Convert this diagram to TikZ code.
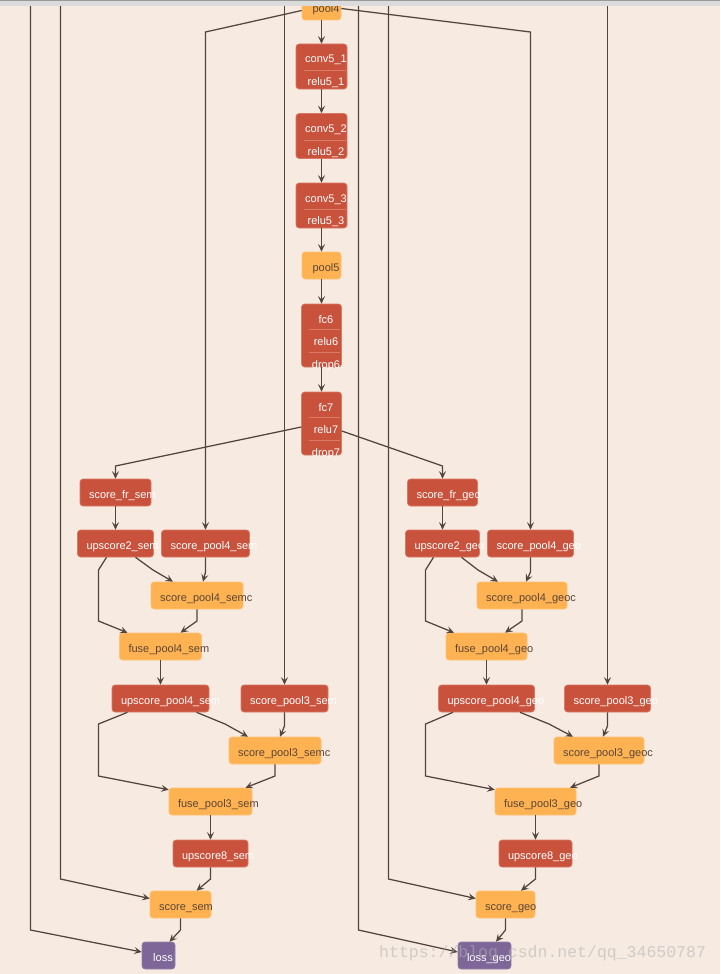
\documentclass[tikz,border=0pt]{standalone}
\usepackage{fontspec}
\setmainfont{Liberation Sans}
\newfontfamily\markfont{Liberation Mono}
\usetikzlibrary{arrows.meta}
\definecolor{bg}{HTML}{F6EAE1}
\definecolor{nred}{HTML}{C8523C}
\definecolor{nredl}{HTML}{DA7A66}
\definecolor{norange}{HTML}{FFB252}
\definecolor{norangel}{HTML}{FFC274}
\definecolor{npurple}{HTML}{7E6798}
\definecolor{npurplel}{HTML}{9583AA}
\definecolor{wire}{HTML}{54443E}
\definecolor{ntext}{HTML}{5A4636}
\hfuzz=300pt \hbadness=10000 \hyphenpenalty=10000
\begin{document}
\begin{tikzpicture}[x=1pt,y=-1pt,font=\fontsize{11}{22.5}\selectfont,
  box/.style={rounded corners=3pt,inner xsep=0pt,inner ysep=0pt,align=center,text height=19.5pt,text depth=7.5pt,
    line width=.6pt,execute at begin node={\leftskip=9pt plus 1fil\rightskip=0pt plus 1fil\parfillskip=0pt}},
  rnode/.style={box,fill=nred,draw=nredl,text=white,text width=#1},
  onode/.style={box,fill=norange,draw=norangel,text=ntext,text width=#1},
  pnode/.style={box,fill=npurple,draw=npurplel,text=white,text width=#1},
  tall/.style={text height=19pt,text depth=#1},
  edge/.style={draw=wire,line width=1.25pt,-{Stealth[length=7.5pt,width=7pt,inset=3pt]}},
  sep/.style={draw=nredl,line width=.7pt}]
\useasboundingbox(0,0)rectangle(720,974);
\fill[bg](0,0)rectangle(720,974);
\coordinate(lblsem)at(30.5,0);\coordinate(datasem)at(60.5,0);\coordinate(pool3s)at(284.5,0);
\coordinate(lblgeo)at(358.5,0);\coordinate(datageo)at(388.5,0);\coordinate(pool3g)at(607.5,0);
\node[onode=39pt](pool4)at(321.5,6.5){pool4};
\node[rnode=51pt,tall=26pt](c51)at(321.5,66.5){conv5\_1\\relu5\_1};
\node[rnode=51pt,tall=26pt](c52)at(321.5,136){conv5\_2\\relu5\_2};
\node[rnode=51pt,tall=26pt](c53)at(321.5,205.5){conv5\_3\\relu5\_3};
\node[onode=39pt](pool5)at(321.5,265.5){pool5};
\node[rnode=40pt,tall=44pt](fc6)at(321.5,335.5){fc6\\relu6\\drop6};
\node[rnode=40pt,tall=44pt](fc7)at(321.5,423.5){fc7\\relu7\\drop7};
\foreach \n in {c51,c52,c53}
  \draw[sep]([xshift=8pt,yshift=-27pt]\n.north west)--([xshift=-1pt,yshift=-27pt]\n.north east);
\foreach \n in {fc6,fc7}{
  \draw[sep]([xshift=8pt,yshift=-26pt]\n.north west)--([xshift=-2pt,yshift=-26pt]\n.north east);
  \draw[sep]([xshift=8pt,yshift=-48.5pt]\n.north west)--([xshift=-2pt,yshift=-48.5pt]\n.north east);}
\node[rnode=71pt](frsem)at(115.5,492.5){score\_fr\_sem};
\node[rnode=76pt](up2sem)at(115.5,543.5){upscore2\_sem};
\node[rnode=88pt](p4sem)at(205.5,543.5){score\_pool4\_sem};
\node[onode=92pt](p4semc)at(197,595.5){score\_pool4\_semc};
\node[onode=82pt](fuse4sem)at(160.5,646.5){fuse\_pool4\_sem};
\node[rnode=97pt](upp4sem)at(160.5,698.5){upscore\_pool4\_sem};
\node[rnode=87pt](p3sem)at(284.5,698.5){score\_pool3\_sem};
\node[onode=92pt](p3semc)at(275,750.5){score\_pool3\_semc};
\node[onode=83pt](fuse3sem)at(210.5,801.5){fuse\_pool3\_sem};
\node[rnode=75pt](up8sem)at(210.5,853.5){upscore8\_sem};
\node[onode=61pt](sem)at(180.5,904.5){score\_sem};
\node[pnode=33pt](loss)at(158.5,955.5){loss};
\node[rnode=70pt](frgeo)at(442.5,492.5){score\_fr\_geo};
\node[rnode=74pt](up2geo)at(442.5,543.5){upscore2\_geo};
\node[rnode=86pt](p4geo)at(530.5,543.5){score\_pool4\_geo};
\node[onode=90pt](p4geoc)at(522,595.5){score\_pool4\_geoc};
\node[onode=81pt](fuse4geo)at(486.5,646.5){fuse\_pool4\_geo};
\node[rnode=96pt](upp4geo)at(486.5,698.5){upscore\_pool4\_geo};
\node[rnode=86pt](p3geo)at(607.5,698.5){score\_pool3\_geo};
\node[onode=90pt](p3geoc)at(599,750.5){score\_pool3\_geoc};
\node[onode=81pt](fuse3geo)at(535.5,801.5){fuse\_pool3\_geo};
\node[rnode=73pt](up8geo)at(535.5,853.5){upscore8\_geo};
\node[onode=59pt](geo)at(505.5,904.5){score\_geo};
\node[pnode=53pt](lossgeo)at(484.5,955.5){loss\_geo};
\foreach \a/\b in {pool4/c51,c51/c52,c52/c53,c53/pool5,pool5/fc6,fc6/fc7,frsem/up2sem,fuse4sem/upp4sem,
  fuse3sem/up8sem,frgeo/up2geo,fuse4geo/upp4geo,fuse3geo/up8geo,pool3s/p3sem,pool3g/p3geo}
  \draw[edge](\a)--(\b);
\draw[edge]([yshift=-4pt]pool4.west)--(205.5,32)--(p4sem);
\draw[edge]([yshift=-2pt]pool4.east)--(530.5,32)--(p4geo);
\draw[edge]([yshift=-3.5pt]fc7.west)--(115.5,466)--(frsem);
\draw[edge]([yshift=-7.5pt]fc7.east)--(442.5,466)--(frgeo);
\draw[edge]([xshift=20pt]up2sem.south)--(153,570)--([xshift=-24pt]p4semc.north);
\draw[edge](p4sem)--(205.5,572)--([xshift=6pt]p4semc.north);
\draw[edge]([xshift=-9pt]up2sem.south)--(98.5,570)--(98.5,621)--([xshift=-33pt]fuse4sem.north);
\draw[edge](p4semc)--(197,621)--([xshift=20pt]fuse4sem.north);
\draw[edge]([xshift=36pt]upp4sem.south)--(225,724)--([xshift=-27pt]p3semc.north);
\draw[edge](p3sem)--(284.5,726)--([xshift=5pt]p3semc.north);
\draw[edge]([xshift=-33pt]upp4sem.south)--(98.5,724)--(98.5,776)--([yshift=-2pt]fuse3sem.north west);
\draw[edge](p3semc)--(275,776)--([xshift=35pt]fuse3sem.north);
\draw[edge](up8sem)--(210.5,879)--([xshift=16pt]sem.north);
\draw[edge](datasem)--(60.5,879)--([yshift=6pt]sem.west);
\draw[edge](sem)--(180.5,930)--([xshift=11pt]loss.north);
\draw[edge](lblsem)--(30.5,930)--([yshift=3.5pt]loss.west);
\draw[edge]([xshift=19pt]up2geo.south)--(478,570)--([xshift=-24pt]p4geoc.north);
\draw[edge](p4geo)--(530.5,572)--([xshift=4pt]p4geoc.north);
\draw[edge]([xshift=-9pt]up2geo.south)--(425.5,570)--(425.5,621)--([xshift=-32.5pt]fuse4geo.north);
\draw[edge](p4geoc)--(522,621)--([xshift=18.5pt]fuse4geo.north);
\draw[edge]([xshift=33.5pt]upp4geo.south)--(549,724)--([xshift=-26pt]p3geoc.north);
\draw[edge](p3geo)--(607.5,726)--([xshift=4pt]p3geoc.north);
\draw[edge]([xshift=-33.5pt]upp4geo.south)--(425.5,724)--(425.5,776)--([yshift=-2pt]fuse3geo.north west);
\draw[edge](p3geoc)--(599,776)--([xshift=34.5pt]fuse3geo.north);
\draw[edge](up8geo)--(535.5,879)--([xshift=15.5pt]geo.north);
\draw[edge](datageo)--(388.5,879)--([yshift=6pt]geo.west);
\draw[edge](geo)--(505.5,930)--([xshift=11.5pt]lossgeo.north);
\draw[edge](lblgeo)--(358.5,930)--([yshift=3.5pt]lossgeo.west);
\node[font=\markfont\fontsize{16.5}{18}\selectfont,text=black!30,text opacity=.55,anchor=west,inner sep=0pt](mark)
  at(379,953){https://blog.csdn.net/qq\_34650787};
\fill[black!14](0,0)rectangle(720,6);
\draw[black!40,line width=1.2pt](0,.6)--(720,.6);
\end{tikzpicture}
\end{document}
